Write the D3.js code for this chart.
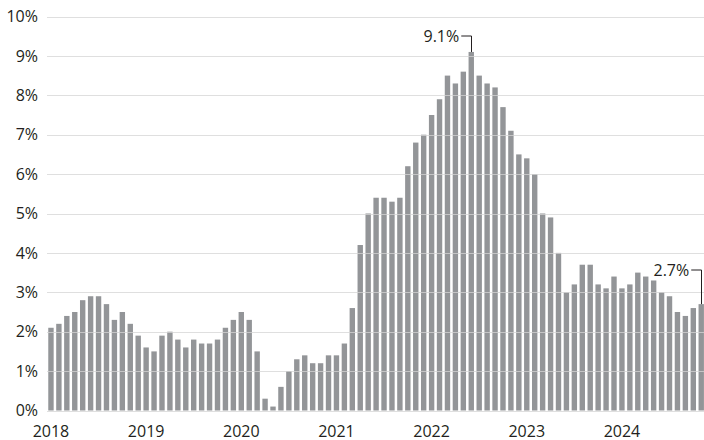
<!DOCTYPE html>
<html><head><meta charset="utf-8">
<script src="https://cdn.jsdelivr.net/npm/d3@7"></script>
<style>
html,body{margin:0;padding:0;background:#fff;}
svg{display:block;}
text{font-family:"Open Sans",sans-serif;fill:#231f20;}
</style></head>
<body><svg id="c" width="704" height="440"></svg>
<script>
const years = ["2018","2019","2020","2021","2022","2023","2024"];
const v2018 = [2.1,2.2,2.4,2.5,2.8,2.9,2.9,2.7,2.3,2.5,2.2,1.9];
const v2019 = [1.6,1.5,1.9,2.0,1.8,1.6,1.8,1.7,1.7,1.8,2.1,2.3];
const v2020 = [2.5,2.3,1.5,0.3,0.1,0.6,1.0,1.3,1.4,1.2,1.2,1.4];
const v2021 = [1.4,1.7,2.6,4.2,5.0,5.4,5.4,5.3,5.4,6.2,6.8,7.0];
const v2022 = [7.5,7.9,8.5,8.3,8.6,9.1,8.5,8.3,8.2,7.7,7.1,6.5];
const v2023 = [6.4,6.0,5.0,4.9,4.0,3.0,3.2,3.7,3.7,3.2,3.1,3.4];
const v2024 = [3.1,3.2,3.5,3.4,3.3,3.0,2.9,2.5,2.4,2.6,2.7];
const yTicks = [0,1,2,3,4,5,6,7,8,9,10];
const callouts = [{label:"9.1%", idx:53},{label:"2.7%", idx:82}];

const series = [v2018,v2019,v2020,v2021,v2022,v2023,v2024];
const data = [];
series.forEach((arr,yi)=>arr.forEach((v,m)=>data.push({key:years[yi]+"-"+(m+1),year:years[yi],m:m,v:v})));

const svg = d3.select("#c");
const x = d3.scaleBand().domain(data.map(d=>d.key)).range([47,705.2]).paddingInner(0.32).paddingOuter(0.16);
const y = d3.scaleLinear().domain([0,10]).range([410.5,16.5]);

// bars
svg.append("g").selectAll("rect").data(data).join("rect")
  .attr("x",d=>x(d.key)).attr("width",x.bandwidth())
  .attr("y",d=>y(d.v)).attr("height",d=>y(0)-y(d.v))
  .attr("fill","#939598");

// gridlines (over bars)
svg.append("g").selectAll("line").data(yTicks).join("line")
  .attr("x1",47).attr("x2",704)
  .attr("y1",d=>Math.round(y(d))+0.5).attr("y2",d=>Math.round(y(d))+0.5)
  .attr("stroke","#d4d4d4").attr("stroke-opacity",0.75).attr("stroke-width",1.2);

// y labels
svg.append("g").selectAll("text").data(yTicks).join("text")
  .attr("x",38).attr("y",d=>y(d)).attr("dy","0.36em")
  .attr("text-anchor","end").attr("font-size",16)
  .text(d=>d+"%");

// x labels
svg.append("g").selectAll("text").data(years).join("text")
  .attr("x",d=>x(d+"-1")+x.bandwidth()/2).attr("y",436.5)
  .attr("text-anchor","middle").attr("font-size",16)
  .text(d=>d);

// callouts
callouts.forEach(c=>{
  const d = data[c.idx];
  const cx = x(d.key)+x.bandwidth()/2;
  const ly = c.idx===53 ? 36 : 270;
  const tx = cx-10;
  svg.append("path")
    .attr("d",`M${tx},${ly}H${Math.round(cx)+0.5}V${y(d.v)}`)
    .attr("fill","none").attr("stroke","#231f20").attr("stroke-width",1);
  svg.append("text").attr("x",tx-2).attr("y",ly).attr("dy","0.36em")
    .attr("text-anchor","end").attr("font-size",16).text(c.label);
});
</script></body></html>
